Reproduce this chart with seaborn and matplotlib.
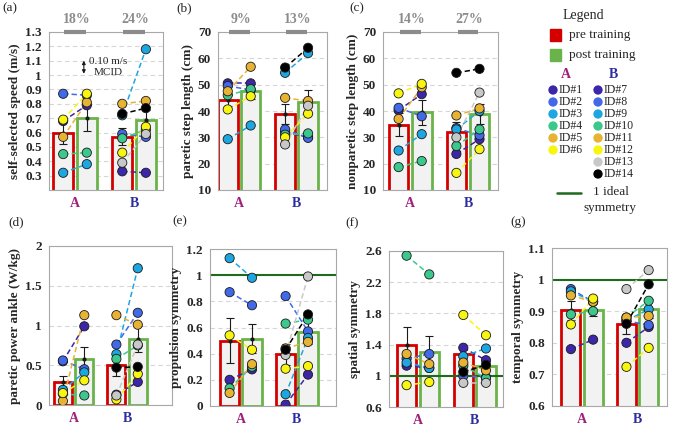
import numpy as np
import pandas as pd
import seaborn as sns
import matplotlib
matplotlib.use('Agg')
import matplotlib.pyplot as plt
from matplotlib.patches import Rectangle
from matplotlib.ticker import FuncFormatter

sns.set_theme(style="white")
plt.rcParams['font.family'] = ['Liberation Serif', 'DejaVu Serif']

# ---- data -------------------------------------------------------------
groups = ["A", "B"]
group_colors = ["#a0207d", "#2c2ca0"]
subject_ids = ["ID#%d" % i for i in range(1, 15)]
subject_group = [0] * 6 + [1] * 8
subject_colors = ["#3d26a8", "#4169e8", "#1ea6e0", "#3cc88c", "#e8b232", "#f8f510",
                  "#3d26a8", "#4169e8", "#1ea6e0", "#3cc88c", "#e8b232", "#f8f510",
                  "#c8c8c8", "#000000"]

# (a) self-selected speed
speed_pre = [0.68, 0.87, 0.32, 0.45, 0.57, 0.69, 0.33, 0.59, 0.72, 0.56, 0.80, 0.46, 0.39, 0.73]
speed_post = [0.79, 0.86, 0.38, 0.46, 0.81, 0.87, 0.32, 0.57, 1.18, 0.62, 0.82, 0.64, 0.59, 0.77]
speed_mean = [[0.60, 0.70], [0.57, 0.69]]
speed_sem = [[0.08, 0.09], [0.06, 0.07]]

# (b) paretic step length
pstep_pre = [50.5, 49.5, 29.3, 46.0, 47.5, 40.6, 32.0, 33.0, 54.5, 31.0, 45.0, 30.0, 27.3, 56.5]
pstep_post = [50.5, 48.0, 34.5, 48.3, 56.8, 45.6, 30.0, 29.8, 62.0, 31.5, 43.8, 39.0, 42.0, 64.0]
pstep_mean = [[44.0, 47.5], [38.8, 43.3]]
pstep_sem = [[2.2, 2.8], [3.8, 4.5]]

# (c) nonparetic step length
npstep_pre = [40.3, 41.2, 25.0, 18.7, 37.0, 46.7, 23.7, 33.5, 33.0, 26.7, 38.3, 16.5, 30.0, 54.5]
npstep_post = [46.4, 38.0, 31.2, 21.0, 49.0, 50.3, 29.3, 30.8, 40.0, 33.0, 41.0, 25.5, 47.0, 56.0]
npstep_mean = [[34.8, 39.5], [32.0, 38.8]]
npstep_sem = [[4.4, 4.8], [4.0, 3.8]]

# (d) paretic ankle power
power_pre = [0.55, 0.56, 0.19, 0.14, 0.05, 0.15, 0.13, 0.76, 0.64, 0.58, 1.13, 0.07, 0.12, 0.47]
power_post = [0.99, 0.45, 0.41, 0.12, 1.13, 0.31, 0.29, 1.16, 1.72, 0.75, 1.01, 0.39, 0.76, 0.48]
power_mean = [[0.29, 0.58], [0.50, 0.83]]
power_sem = [[0.08, 0.15], [0.13, 0.16]]

# (e) propulsion symmetry
prop_pre = [0.20, 0.87, 1.13, 0.135, 0.10, 0.54, 0.01, 0.84, 0.09, 0.63, 0.44, 0.285, 0.39, 0.43]
prop_post = [0.28, 0.77, 0.98, 0.30, 0.32, 0.43, 0.24, 0.57, 0.52, 0.66, 0.49, 0.305, 0.99, 0.70]
prop_mean = [[0.50, 0.515], [0.395, 0.565]]
prop_sem = [[0.17, 0.11], [0.08, 0.09]]

# (f) spatial symmetry
spat_pre = [1.13, 1.22, 1.17, 2.54, 1.28, 0.88, 1.36, 1.00, 1.25, 1.13, 1.17, 1.78, 0.91, 1.05]
spat_post = [1.10, 1.28, 1.10, 2.30, 1.15, 0.92, 1.20, 0.98, 1.35, 0.97, 1.07, 1.52, 0.91, 1.14]
spat_mean = [[1.39, 1.31], [1.28, 1.13]]
spat_sem = [[0.23, 0.20], [0.06, 0.06]]

# (g) temporal symmetry
temp_pre = [0.78, 0.97, 0.963, 0.89, 0.95, 0.858, 0.80, 0.87, 0.87, 0.88, 0.88, 0.724, 0.97, 0.86]
temp_post = [0.81, 0.93, 0.93, 0.90, 0.93, 0.94, 0.85, 0.856, 0.906, 0.933, 0.885, 0.784, 1.03, 0.985]
temp_mean = [[0.903, 0.905], [0.858, 0.908]]
temp_sem = [[0.03, 0.02], [0.03, 0.03]]

pct_a = ["18%", "24%"]
pct_b = ["9%", "13%"]
pct_c = ["14%", "27%"]

PRE_EDGE = "#d40000"
POST_EDGE = "#6ab34a"
IDEAL = "#1e6b1e"
OFF = 0.2
W, H = 685.0, 429.0


def rect(l, r, t, b):
    return [l / W, 1 - b / H, (r - l) / W, (b - t) / H]


panels = [
    ("(a)", "self-selected speed (m/s)", speed_pre, speed_post, speed_mean, speed_sem,
     (0.2, 1.3), np.arange(0.3, 1.31, 0.1), (-0.44, 1.49), rect(49, 163, 32, 190), pct_a, False, (2, 8)),
    ("(b)", "paretic step length (cm)", pstep_pre, pstep_post, pstep_mean, pstep_sem,
     (10, 70), np.arange(10, 71, 10), (-0.37, 1.53), rect(218, 327, 32, 190), pct_b, False, (176, 8)),
    ("(c)", "nonparetic step length (cm)", npstep_pre, npstep_post, npstep_mean, npstep_sem,
     (10, 70), np.arange(10, 71, 10), (-0.47, 1.52), rect(383, 498, 32, 190), pct_c, False, (349, 8)),
    ("(d)", "paretic power ankle (W/kg)", power_pre, power_post, power_mean, power_sem,
     (0, 2), np.arange(0, 2.01, 0.5), (-0.46, 1.84), rect(49, 172, 246, 405), None, False, (8, 222)),
    ("(e)", "propulsion symmetry", prop_pre, prop_post, prop_mean, prop_sem,
     (0, 1.2), np.arange(0, 1.21, 0.2), (-0.55, 1.70), rect(210, 336, 249, 406), None, True, (172, 221)),
    ("(f)", "spatial symmetry", spat_pre, spat_post, spat_mean, spat_sem,
     (0.6, 2.6), np.arange(0.6, 2.61, 0.4), (-0.51, 1.50), rect(389, 503, 251, 407), None, True, (345, 223)),
    ("(g)", "temporal symmetry", temp_pre, temp_post, temp_mean, temp_sem,
     (0.6, 1.1), np.arange(0.6, 1.11, 0.1), (-0.54, 1.53), rect(552, 667, 248, 406), None, True, (510, 222)),
]

fig = plt.figure(figsize=(6.85, 4.29), dpi=100)

for (tag, ylabel, pre, post, means, sems, ylim, yticks, xlim, pos, pct, ideal, tagxy) in panels:
    ax = fig.add_axes(pos)

    bars = pd.DataFrame({
        "pos": [g + s * OFF for g in range(2) for s in (-1, 1)],
        "mean": [means[g][k] for g in range(2) for k in range(2)],
        "sem": [sems[g][k] for g in range(2) for k in range(2)],
    })
    sns.barplot(data=bars, x="pos", y="mean", native_scale=True, width=0.85,
                color="#f2f2f2", saturation=1, errorbar=None, ax=ax, zorder=1)
    for p in ax.patches:
        cx = p.get_x() + p.get_width() / 2
        is_pre = (cx - np.floor(cx + 0.5)) < 0
        p.set_edgecolor(PRE_EDGE if is_pre else POST_EDGE)
        p.set_linewidth(2.0)
        p.set_facecolor("#f2f2f2")

    if ideal:
        ax.axhline(1.0, color=IDEAL, lw=1.5, zorder=2)

    ax.errorbar(bars["pos"], bars["mean"], yerr=bars["sem"], fmt="o", ms=2, color="k",
                ecolor="k", elinewidth=0.8, capsize=3, capthick=0.8, zorder=3)

    # dashed pre -> post lines per subject
    for k in range(14):
        g = subject_group[k]
        ax.plot([g - OFF, g + OFF], [pre[k], post[k]], ls=(0, (3.5, 2)),
                color=subject_colors[k], lw=1.1, zorder=4)

    pts = pd.DataFrame({
        "x": [subject_group[k] + s * OFF for k in range(14) for s in (-1, 1)],
        "value": [v for k in range(14) for v in (pre[k], post[k])],
        "subject": [subject_ids[k] for k in range(14) for _ in range(2)],
    })
    sns.scatterplot(data=pts, x="x", y="value", hue="subject",
                    palette=dict(zip(subject_ids, subject_colors)), s=44,
                    edgecolor="k", linewidth=0.6, legend=False, ax=ax, zorder=5)

    ax.set_xlim(*xlim)
    ax.set_ylim(*ylim)
    ax.set_yticks(yticks)
    ax.yaxis.set_major_formatter(FuncFormatter(lambda v, p: "%g" % round(v, 2)))
    ax.grid(axis="y", color="#d6d6d6", ls=(0, (4, 3)), lw=0.8)
    ax.set_axisbelow(True)
    ax.set_xticks([0, 1])
    ax.set_xticklabels(groups)
    for lab, c in zip(ax.get_xticklabels(), group_colors):
        lab.set_color(c)
        lab.set_fontweight("bold")
        lab.set_fontsize(10)
    for lab in ax.get_yticklabels():
        lab.set_fontweight("bold")
        lab.set_fontsize(9.5)
    ax.tick_params(axis="both", length=0, pad=5)
    ax.set_xlabel("")
    ax.set_ylabel(ylabel, fontsize=9.5, fontweight="bold", labelpad=3)
    for sp in ax.spines.values():
        sp.set_color("#a8a8a8")
        sp.set_linewidth(0.8)

    if pct is not None:
        for g, txt in enumerate(pct):
            ax.plot([g - 0.18, g + 0.18], [ylim[1], ylim[1]], color="#8c8c8c", lw=3,
                    solid_capstyle="butt", clip_on=False, zorder=6)
            ax.annotate(txt, (g, ylim[1]), xytext=(1, 4), textcoords="offset points",
                        ha="center", va="bottom", color="#8c8c8c", fontweight="bold",
                        fontsize=10)

    if tag == "(a)":
        ax.annotate("", xy=(0.15, 1.12), xytext=(0.15, 0.99),
                    arrowprops=dict(arrowstyle="<|-|>", color="k", lw=0.8, mutation_scale=5))
        ax.text(0.56, 1.055, "0.10 m/s\nMCID", ha="center", va="center", fontsize=8,
                linespacing=1.3)

    fig.text(tagxy[0] / W, 1 - tagxy[1] / H, tag, fontsize=9.5, ha="left", va="center")

# ---- legend panel -----------------------------------------------------
leg = fig.add_axes([0, 0, 1, 1], facecolor="none")
leg.set_xlim(0, W)
leg.set_ylim(H, 0)
leg.axis("off")
leg.text(583, 15, "Legend", ha="center", va="center", fontsize=10)
leg.add_patch(Rectangle((550, 29), 11, 12, color=PRE_EDGE))
leg.text(569, 35, "pre training", va="center", fontsize=9.5)
leg.add_patch(Rectangle((550, 49), 11, 12, color="#6ab34a"))
leg.text(569, 55, "post training", va="center", fontsize=9.5)
for g, (name, c) in enumerate(zip(groups, group_colors)):
    leg.text(566 + 47 * g, 74, name, ha="center", va="center", fontsize=10,
             fontweight="bold", color=c)
row = [0, 0]
for k in range(14):
    g = subject_group[k]
    cx = 553 + 45 * g
    cy = 90 + 12 * row[g]
    row[g] += 1
    leg.scatter([cx], [cy], s=45, color=subject_colors[k], edgecolor="none")
    leg.text(cx + 6, cy, subject_ids[k], va="center", fontsize=8.5)
leg.plot([557, 581], [193, 193], color=IDEAL, lw=1.8)
leg.text(611, 192, "1 ideal", ha="center", va="center", fontsize=9.5)
leg.text(610, 208, "symmetry", ha="center", va="center", fontsize=9.5)

fig.savefig("out.png", dpi=100)
